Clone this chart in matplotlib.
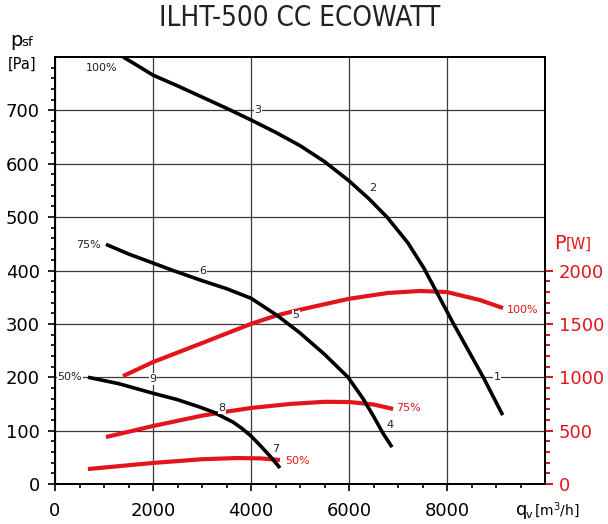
import matplotlib
matplotlib.use("Agg")
import matplotlib.pyplot as plt
import matplotlib.font_manager as fm
from matplotlib.ticker import FixedLocator

# ---------------- data ----------------
title = "ILHT-500 CC ECOWATT"

# static pressure curves [Pa] vs airflow [m3/h]
q_p100 = [1390, 1700, 2000, 2500, 3000, 3500, 4000, 4500, 5000, 5500, 6000, 6400, 6776,
          7200, 7531, 8122, 8740, 9137]
p_p100 = [800, 783, 766, 746, 725, 704, 682, 659, 634, 604, 568, 535, 500,
          452, 404, 302, 200, 129]

q_p75 = [1041, 1500, 2000, 2408, 3000, 3500, 4000, 4531, 5000, 5500, 5980, 6286, 6500, 6694, 6878]
p_p75 = [449, 431, 414, 400, 381, 366, 348, 316, 283, 243, 200, 160, 127, 95, 69]

q_p50 = [673, 1300, 2000, 2500, 2959, 3224, 3633, 3816, 4000, 4200, 4400, 4592]
p_p50 = [200, 188, 170, 158, 144, 135, 116, 104, 90, 71, 51, 30]

# power curves [W]
q_w100 = [1388, 2000, 3000, 4000, 4531, 4837, 5265, 6000, 6800, 7450, 8000, 8673, 9143]
w_w100 = [1011, 1142, 1320, 1500, 1580, 1615, 1660, 1735, 1790, 1808, 1798, 1723, 1648]

q_w75 = [1041, 2000, 3000, 3500, 4000, 4800, 5500, 6000, 6500, 6900]
w_w75 = [440, 543, 640, 678, 712, 750, 770, 768, 745, 703]

q_w50 = [673, 2000, 3000, 3700, 4200, 4592]
w_w50 = [140, 197, 232, 243, 240, 225]

x_ticks = [0, 2000, 4000, 6000, 8000]
y_ticks = [0, 100, 200, 300, 400, 500, 600, 700]
w_ticks = [0, 500, 1000, 1500, 2000]

# curve number labels (q, p)
num_labels = [("1", 9020, 200), ("2", 6490, 555), ("3", 4143, 700),
              ("4", 6837, 110), ("5", 4918, 316), ("6", 3020, 400),
              ("7", 4510, 66), ("8", 3408, 142), ("9", 2000, 197)]
pct_labels_p = [("100%", 959, 779), ("75%", 673, 448), ("50%", 306, 200)]
pct_labels_w = [("100%", 9551, 1630), ("75%", 7204, 712), ("50%", 4939, 215)]

# ---------------- style ----------------
RED = "#e3151c"
names = {f.name for f in fm.fontManager.ttflist}
if "Liberation Sans Narrow" in names:
    title_font = dict(family="Liberation Sans Narrow")
elif "DejaVu Sans Condensed" in names:
    title_font = dict(family="DejaVu Sans Condensed")
else:
    title_font = dict(family="DejaVu Sans", stretch="condensed")

plt.rcParams["font.family"] = ["DejaVu Sans"]

fig = plt.figure(figsize=(6.08, 5.24), dpi=100)
ax = fig.add_axes([55 / 608, 40 / 524, 490 / 608, 427 / 524])
ax2 = ax.twinx()

ax.set_xlim(0, 10000)
ax.set_ylim(0, 800)
ax2.set_ylim(0, 4000)

ax.xaxis.set_major_locator(FixedLocator(x_ticks))
ax.xaxis.set_minor_locator(FixedLocator([v for v in range(500, 10000, 500) if v % 2000 != 0]))
ax.yaxis.set_major_locator(FixedLocator(y_ticks))
ax.yaxis.set_minor_locator(FixedLocator([v for v in range(20, 800, 20) if v % 100 != 0]))
ax.set_xticklabels([str(v) for v in x_ticks])
ax.set_yticklabels([str(v) for v in y_ticks])

ax2.yaxis.set_major_locator(FixedLocator(w_ticks))
ax2.yaxis.set_minor_locator(FixedLocator([v for v in range(100, 2000, 100) if v % 500 != 0]))
ax2.set_yticklabels([str(v) for v in w_ticks])

ax.grid(True, which="major", color="#3a3a3a", linewidth=0.9)
ax.set_axisbelow(True)

ax.tick_params(axis="both", which="major", direction="out", length=5, width=1.2,
               labelsize=13, colors="black")
ax.tick_params(axis="both", which="minor", direction="out", length=3, width=1.2)
ax.tick_params(axis="x", pad=8)
ax.tick_params(axis="y", pad=6)
ax2.tick_params(axis="y", which="major", direction="out", length=6, width=1.5,
                labelsize=13, colors=RED, pad=4)
ax2.tick_params(axis="y", which="minor", direction="out", length=3.5, width=1.5, colors=RED)

for a in (ax, ax2):
    for s in a.spines.values():
        s.set_linewidth(1.4)
        s.set_color("black")

# power curves (red) on the W axis
for q, w in ((q_w100, w_w100), (q_w75, w_w75), (q_w50, w_w50)):
    ax2.plot(q, w, color=RED, linewidth=3.0, solid_capstyle="butt",
             solid_joinstyle="round", zorder=2)

# pressure curves (black) on the Pa scale, drawn above the red ones
for q, p in ((q_p100, p_p100), (q_p75, p_p75), (q_p50, p_p50)):
    ax2.plot(q, p, color="black", linewidth=2.6, solid_capstyle="butt",
             solid_joinstyle="round", transform=ax.transData, zorder=3)

box = dict(facecolor="white", edgecolor="none", pad=0.6)
for t, q, p in num_labels:
    ax2.text(q, p, t, transform=ax.transData, fontsize=8, color="#222222",
             ha="center", va="center", bbox=box, zorder=5)
for t, q, p in pct_labels_p:
    ax2.text(q, p, t, transform=ax.transData, fontsize=8, color="#222222",
             ha="center", va="center", bbox=box, zorder=5)
for t, q, w in pct_labels_w:
    ax2.text(q, w, t, fontsize=8, color=RED, ha="center", va="center",
             bbox=box, zorder=5)

# axis titles and main title
fig.text(300 / 608, 1 - 18 / 524, title, fontsize=20, ha="center", va="center",
         color="#222222", **title_font)
fig.text(10 / 608, 1 - 46 / 524, "p", fontsize=14, ha="left", va="baseline")
fig.text(21 / 608, 1 - 46 / 524, "sf", fontsize=9.5, ha="left", va="baseline")
fig.text(8 / 608, 1 - 64 / 524, "[Pa]", fontsize=10.5, ha="left", va="center")

fig.text(554 / 608, 1 - 249 / 524, "P", fontsize=14, ha="left", va="baseline", color=RED)
fig.text(566 / 608, 1 - 249 / 524, "[W]", fontsize=10.5, ha="left", va="baseline", color=RED)

fig.text(516 / 608, 1 - 515 / 524, "q", fontsize=13, ha="left", va="baseline")
fig.text(526 / 608, 1 - 518 / 524, "v", fontsize=8, ha="left", va="baseline")
fig.text(534 / 608, 1 - 515 / 524, "[m$^3$/h]", fontsize=10, ha="left", va="baseline")

fig.savefig("out.png", dpi=100)
